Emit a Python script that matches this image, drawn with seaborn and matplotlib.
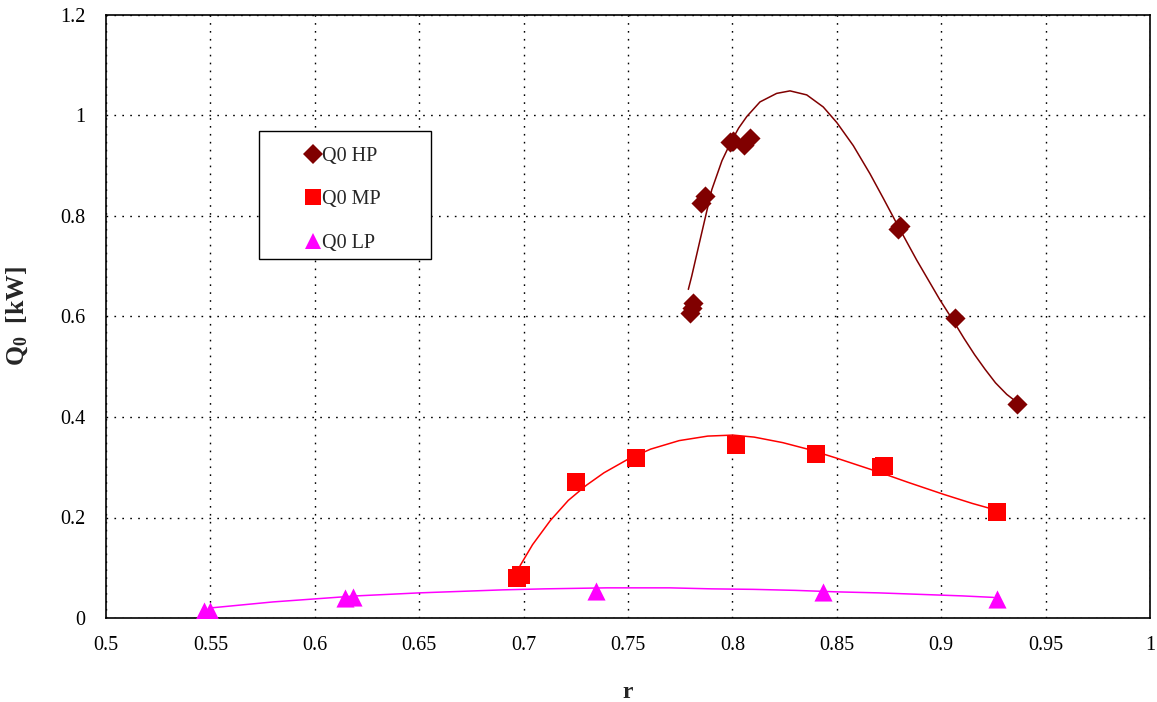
import numpy as np
import pandas as pd
import matplotlib
matplotlib.use("Agg")
import matplotlib.pyplot as plt
from matplotlib.lines import Line2D
from matplotlib.patches import Rectangle
from matplotlib.ticker import MultipleLocator
import seaborn as sns

# ---------------- data ----------------
hp_r = [0.7795, 0.7805, 0.7812, 0.7852, 0.7868, 0.7989, 0.8003, 0.8055, 0.8085, 0.8795, 0.8805, 0.9065, 0.9365]
hp_q = [0.607, 0.617, 0.627, 0.826, 0.840, 0.947, 0.950, 0.941, 0.955, 0.775, 0.781, 0.597, 0.425]

mp_r = [0.6968, 0.6988, 0.7251, 0.7538, 0.8017, 0.8400, 0.8712, 0.8725, 0.9267]
mp_q = [0.080, 0.086, 0.270, 0.319, 0.344, 0.326, 0.300, 0.303, 0.211]

lp_r = [0.5470, 0.5500, 0.6145, 0.6184, 0.7347, 0.8434, 0.9267]
lp_q = [0.013, 0.014, 0.040, 0.041, 0.054, 0.052, 0.037]

# trend curves
hp_curve_r = [0.7789, 0.7805, 0.7845, 0.7901, 0.7950, 0.7989, 0.8030, 0.8069, 0.8132, 0.8212,
              0.8276, 0.8356, 0.8435, 0.8500, 0.8579, 0.8659, 0.8723, 0.8787, 0.8883, 0.8994,
              0.9057, 0.9110, 0.9160, 0.9210, 0.9260, 0.9314, 0.9370]
hp_curve_q = [0.654, 0.680, 0.752, 0.852, 0.910, 0.944, 0.975, 0.998, 1.027, 1.044,
              1.049, 1.041, 1.017, 0.986, 0.940, 0.884, 0.835, 0.785, 0.712, 0.633,
              0.592, 0.556, 0.524, 0.495, 0.468, 0.445, 0.427]

mp_curve_r = [0.6983, 0.7043, 0.7128, 0.7214, 0.7300, 0.7385, 0.7500, 0.7608, 0.7745, 0.7882,
              0.8002, 0.8104, 0.8241, 0.8361, 0.8500, 0.8704, 0.8841, 0.9012, 0.9149, 0.9252]
mp_curve_q = [0.104, 0.146, 0.194, 0.234, 0.264, 0.289, 0.316, 0.336, 0.353, 0.362,
              0.364, 0.360, 0.349, 0.336, 0.318, 0.290, 0.270, 0.246, 0.228, 0.216]

lp_curve_r = [0.550, 0.560, 0.570, 0.580, 0.590, 0.600, 0.610, 0.620, 0.635, 0.650,
              0.670, 0.690, 0.710, 0.740, 0.770, 0.790, 0.810, 0.830, 0.850, 0.870,
              0.890, 0.910, 0.925]
lp_curve_q = [0.020, 0.024, 0.028, 0.032, 0.035, 0.038, 0.041, 0.044, 0.047, 0.050,
              0.053, 0.056, 0.058, 0.060, 0.060, 0.058, 0.057, 0.055, 0.052, 0.050,
              0.047, 0.044, 0.041]

series_names = ["Q0 HP", "Q0 MP", "Q0 LP"]
colors = {"Q0 HP": "#800000", "Q0 MP": "#FF0000", "Q0 LP": "#FF00FF"}
markers = {"Q0 HP": "D", "Q0 MP": "s", "Q0 LP": "^"}
sizes = {"Q0 HP": 105, "Q0 MP": 150, "Q0 LP": 170}

points = pd.concat([
    pd.DataFrame({"r": hp_r, "Q": hp_q, "series": "Q0 HP"}),
    pd.DataFrame({"r": mp_r, "Q": mp_q, "series": "Q0 MP"}),
    pd.DataFrame({"r": lp_r, "Q": lp_q, "series": "Q0 LP"}),
])
curves = pd.concat([
    pd.DataFrame({"r": hp_curve_r, "Q": hp_curve_q, "series": "Q0 HP"}),
    pd.DataFrame({"r": mp_curve_r, "Q": mp_curve_q, "series": "Q0 MP"}),
    pd.DataFrame({"r": lp_curve_r, "Q": lp_curve_q, "series": "Q0 LP"}),
])

# ---------------- style ----------------
sns.set_style("white")
plt.rcParams["font.family"] = ["Liberation Serif", "DejaVu Serif"]
plt.rcParams["mathtext.fontset"] = "custom"
plt.rcParams["mathtext.rm"] = "Liberation Serif"
plt.rcParams["mathtext.bf"] = "Liberation Serif:bold"

fig = plt.figure(figsize=(11.57, 7.02), dpi=100)
ax = fig.add_axes([106 / 1157, 84 / 702, 1044 / 1157, 603 / 702])

# curves
sns.lineplot(data=curves, x="r", y="Q", hue="series", palette=colors,
             estimator=None, sort=False, units="series", legend=False,
             linewidth=1.1, ax=ax, zorder=3)

# points
for name in series_names:
    sub = points[points["series"] == name]
    sns.scatterplot(data=sub, x="r", y="Q", color=colors[name], marker=markers[name],
                    s=sizes[name], linewidth=0, ax=ax, zorder=4, legend=False)

ax.set_xlim(0.5, 1.0)
ax.set_ylim(0, 1.2)
ax.xaxis.set_major_locator(MultipleLocator(0.05))
ax.xaxis.set_minor_locator(MultipleLocator(0.01))
ax.yaxis.set_major_locator(MultipleLocator(0.2))
ax.yaxis.set_minor_locator(MultipleLocator(0.04))

ax.set_xticklabels([("%g" % v) for v in ax.get_xticks()])
ax.set_yticklabels([("%g" % v) for v in ax.get_yticks()])

ax.grid(True, which="major", color="black", linestyle=(0, (1.2, 4.5)), linewidth=1.0)
ax.tick_params(which="both", direction="in", length=5, width=1, colors="black",
               labelsize=14.5, top=False, right=False)
ax.tick_params(axis="x", which="major", pad=13)
ax.tick_params(axis="y", which="major", pad=15)
for sp in ax.spines.values():
    sp.set_color("black")
    sp.set_linewidth(1.2)

ax.set_xlabel("r", fontsize=17, fontweight="bold")
ax.set_ylabel(r"$\mathbf{Q_0}$  [kW]", fontsize=18.5, fontweight="bold")
ax.xaxis.set_label_coords(0.5, -0.106)
ax.yaxis.set_label_coords(-0.0728, 0.5)

# legend
leg_ms = {"Q0 HP": 10.0, "Q0 MP": 11.0, "Q0 LP": 11.5}
handles = [Line2D([], [], linestyle="none", marker=markers[n], color=colors[n],
                  markeredgewidth=0, markersize=leg_ms[n]) for n in series_names]
leg = ax.legend(handles, series_names, loc="upper left",
                bbox_to_anchor=((304 - 106) / 1044, (618 - 147) / 603),
                frameon=False, fontsize=14.5, borderpad=0, borderaxespad=0,
                handlelength=0.9, handletextpad=0.0, labelspacing=1.2)
ax.add_patch(Rectangle(((259 - 106) / 1044, (618 - 259) / 603), 172 / 1044, 128 / 603,
                       transform=ax.transAxes, fill=True, facecolor="white",
                       edgecolor="black", linewidth=1.0, zorder=5))
leg.set_zorder(6)

fig.savefig("out.png", dpi=100)
